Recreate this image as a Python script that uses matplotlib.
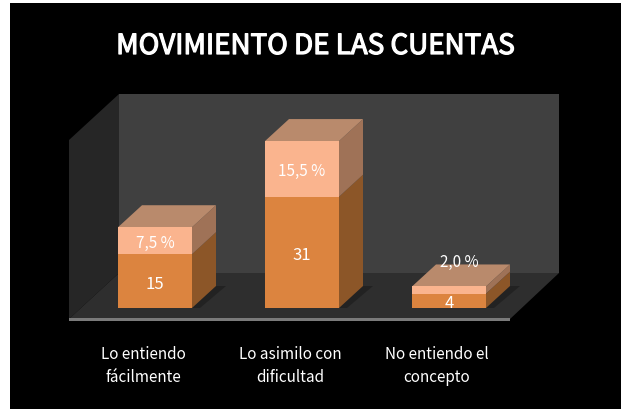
import matplotlib
matplotlib.use("Agg")
import matplotlib.pyplot as plt
import matplotlib.patheffects as pe
from matplotlib.patches import Polygon, Rectangle

categories = ["Lo entiendo\nfácilmente", "Lo asimilo con\ndificultad", "No entiendo el\nconcepto"]
counts = [15, 31, 4]
percents = [7.5, 15.5, 2.0]
percent_labels = ["7,5 %", "15,5 %", "2,0 %"]
title = "MOVIMIENTO DE LAS CUENTAS"

W, H = 627, 410
FONT = ["Noto Sans CJK SC", "DejaVu Sans"]
plt.rcParams["font.family"] = FONT
fig = plt.figure(figsize=(W / 100, H / 100), dpi=100, facecolor="white")
ax = fig.add_axes([0, 0, 1, 1])

PX = 147.0
PY = 3.59
BASE = 309
ax.set_xlim(-155 / PX, (W - 155) / PX)
ax.set_ylim(-(H - BASE) / PY, BASE / PY)
ax.axis("off")

def X(px):
    return (px - 155) / PX

def Y(py):
    return (BASE - py) / PY

def poly(pts, color, z):
    ax.add_patch(Polygon([(X(a), Y(b)) for a, b in pts], closed=True, fc=color, ec="none", zorder=z))

ax.add_patch(Rectangle((X(9.5), Y(410)), (621 - 9.5) / PX, (410 - 4) / PY, fc="black", ec="none", zorder=0))

poly([(119, 95), (559, 95), (559, 274), (119, 274)], "#404040", 1)
poly([(69, 141), (119, 95), (119, 274), (69, 320)], "#262626", 1)
poly([(69, 320), (119, 274), (559, 274), (510, 320)], "#2E2E2E", 1)
poly([(69, 319), (510, 319), (510, 321.5), (69, 321.5)], "#7A7A7A", 2)

BW = 74 / PX
DX = 24 / PX
DY = 22 / PY

for i, (c, p) in enumerate(zip(counts, percents)):
    l, r = i - BW / 2, i + BW / 2
    ax.add_patch(Polygon([(l - 8 / PX, 0), (r + 8 / PX, 0), (r + DX + 10 / PX, DY), (r + DX, DY), (l, 0)],
                         closed=True, fc="#222222", ec="none", zorder=3))
    ax.add_patch(Polygon([(r, 0), (r + DX, DY), (r + DX, c + DY), (r, c)], closed=True, fc="#8C5628", ec="none", zorder=4))
    ax.bar(i, c, width=BW, bottom=0, color="#DC843F", linewidth=0, zorder=5)
    t = c + p
    ax.add_patch(Polygon([(r, c), (r + DX, c + DY), (r + DX, t + DY), (r, t)], closed=True, fc="#9F7257", ec="none", zorder=4))
    ax.bar(i, p, width=BW, bottom=c, color="#FAB48E", linewidth=0, zorder=5)
    ax.add_patch(Polygon([(l, t), (r, t), (r + DX, t + DY), (l + DX, t + DY)], closed=True, fc="#B98A6C", ec="none", zorder=4))
    ax.text(i, c / 2 - 0.6, str(c), color="white", fontsize=12, ha="center", va="center", zorder=7)
    if i < 2:
        ax.text(i, c + p / 2 - 0.5, percent_labels[i], color="white", fontsize=11, ha="center", va="center", zorder=7)
    else:
        ax.text(i + 0.07, t + DY + 0.8, percent_labels[i], color="white", fontsize=11, ha="center", va="center", zorder=7)
    ax.text(i - 12 / PX, Y(366), categories[i], color="white", fontsize=11, ha="center", va="center",
            linespacing=1.5, zorder=7)

ax.text(X(315), Y(47), title, color="white", fontsize=20, ha="center", va="center", zorder=7,
        path_effects=[pe.withStroke(linewidth=0.9, foreground="white")])

fig.savefig("out.png", dpi=100, facecolor="white")
